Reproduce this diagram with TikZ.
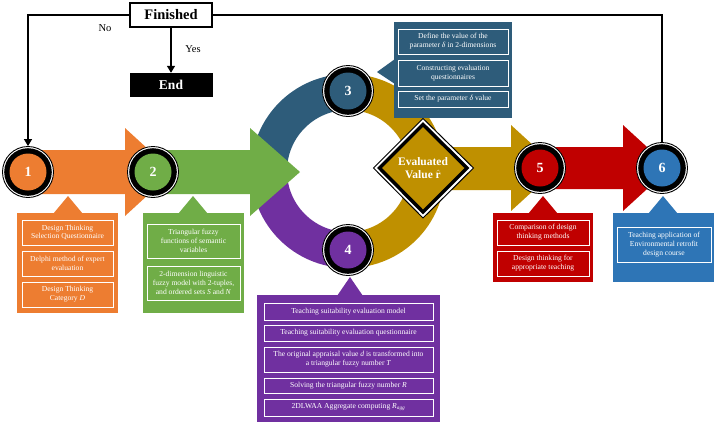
\documentclass[tikz,border=0pt]{standalone}
\usepackage{fontspec}
\setmainfont{Liberation Serif}
\usetikzlibrary{arrows.meta}
\definecolor{corange}{HTML}{ED7D31}
\definecolor{cgreen}{HTML}{70AD47}
\definecolor{cteal}{RGB}{46,92,122}
\definecolor{cgold}{HTML}{BF9000}
\definecolor{cpurple}{HTML}{7030A0}
\definecolor{cred}{HTML}{C00000}
\definecolor{cblue}{HTML}{2E75B6}
\newcommand\numcirc[4]{%
  \node[circle, draw=black, fill=white, line width=0.9pt, minimum size=51pt, inner sep=0pt] (#1) at #2 {};
  \fill[black] (#1.center) circle (23.8);
  \node[circle, fill=#3, minimum size=37pt, inner sep=0pt, text=white, font=\bfseries\fontsize{14}{14}\selectfont] at (#1.center) {#4};
}
\tikzset{
  panel/.style={rectangle, inner sep=0pt, draw=none},
  item/.style={rectangle, draw=white, line width=0.9pt, text=white, align=center, inner sep=1pt,
    font=\fontsize{7.6}{8.8}\selectfont},
  flowline/.style={draw=black, line width=1.5pt},
}
\begin{document}
\begin{tikzpicture}[x=1pt,y=-1pt]
\useasboundingbox (0,0) rectangle (716,424);
% ring
\draw[cteal, line width=36pt] (348,171) ++(180:79) arc[start angle=180, end angle=270, radius=79];
\draw[cgold, line width=36pt] (348,171) ++(270:79) arc[start angle=270, end angle=450, radius=79];
\draw[cpurple, line width=36pt] (348,171) ++(90:79) arc[start angle=90, end angle=180, radius=79];
% arrows
\fill[corange] (28,150) -- (125,150) -- (125,128) -- (173,172) -- (125,216) -- (125,194) -- (28,194) -- cycle;
\fill[cgreen] (153,150) -- (250,150) -- (250,128) -- (300,172) -- (250,216) -- (250,194) -- (153,194) -- cycle;
\fill[cgold] (400,147) -- (511,147) -- (511,125) -- (558,168) -- (511,211) -- (511,190) -- (400,190) -- cycle;
\fill[cred] (540,147) -- (623,147) -- (623,125) -- (670,168) -- (623,211) -- (623,189) -- (540,189) -- cycle;
% diamond
\filldraw[fill=white, draw=black, line width=1pt] (423,118.5) -- (473.5,168) -- (423,218) -- (373.5,168) -- cycle;
\filldraw[fill=cgold, draw=black, line width=3.5pt] (423,124.5) -- (467,168) -- (423,212) -- (379.5,168) -- cycle;
\node[text=white, font=\bfseries\fontsize{11.5}{13.5}\selectfont, align=center] (dia) at (423,168) {Evaluated\\Value $\hat{\mathbf{r}}$};
% circles
\numcirc{c1}{(28,172)}{corange}{1}
\numcirc{c2}{(153,172)}{cgreen}{2}
\numcirc{c3}{(348,91)}{cteal}{3}
\numcirc{c4}{(348,250)}{cpurple}{4}
\numcirc{c5}{(540,168)}{cred}{5}
\numcirc{c6}{(662,168)}{cblue}{6}
% panel 1
\node[panel, fill=corange, minimum width=101pt, minimum height=100pt] (p1) at (67.5,263) {};
\fill[corange] (53,214) -- (68,196) -- (83,214) -- cycle;
\node[item, minimum width=91pt, minimum height=25pt] (b1a) at (67.5,232.5) {Design Thinking\\Selection Questionnaire};
\node[item, minimum width=91pt, minimum height=25pt] (b1b) at (67.5,263.5) {Delphi method of expert\\evaluation};
\node[item, minimum width=91pt, minimum height=25pt] (b1c) at (67.5,294.5) {Design Thinking\\Category \textit{D}};
% panel 2
\node[panel, fill=cgreen, minimum width=101pt, minimum height=100pt] (p2) at (193.5,263) {};
\fill[cgreen] (178,214) -- (193,196) -- (208,214) -- cycle;
\node[item, minimum width=93pt, minimum height=34pt] (b2a) at (193.5,241) {Triangular fuzzy\\functions of semantic\\variables};
\node[item, minimum width=93pt, minimum height=34pt] (b2b) at (193.5,283) {2-dimension linguistic\\fuzzy model with 2-tuples,\\and ordered sets \textit{S} and \textit{N}};
% panel 3
\node[panel, fill=cteal, minimum width=118pt, minimum height=96pt] (p3) at (453,70) {};
\fill[cteal] (395,59) -- (377,72) -- (395,84) -- cycle;
\node[item, minimum width=110pt, minimum height=25pt] (b3a) at (453,41.5) {Define the value of the\\parameter \textit{δ} in 2-dimensions};
\node[item, minimum width=110pt, minimum height=26pt] (b3b) at (453,73) {Constructing evaluation\\questionnaires};
\node[item, minimum width=110pt, minimum height=16pt] (b3c) at (453,99) {Set the parameter \textit{δ} value};
% panel 4
\node[panel, fill=cpurple, minimum width=183pt, minimum height=127pt] (p4) at (348.5,358.5) {};
\fill[cpurple] (337,296) -- (350,277) -- (363,296) -- cycle;
\node[item, minimum width=169pt, minimum height=17pt] (b4a) at (348.5,311.5) {Teaching suitability evaluation model};
\node[item, minimum width=169pt, minimum height=16pt] (b4b) at (348.5,333) {Teaching suitability evaluation questionnaire};
\node[item, minimum width=169pt, minimum height=25pt] (b4c) at (348.5,359.5) {The original appraisal value \textit{d} is transformed into\\a triangular fuzzy number \textit{T}};
\node[item, minimum width=169pt, minimum height=15pt] (b4d) at (348.5,385.5) {Solving the triangular fuzzy number \textit{R}};
\node[item, minimum width=169pt, minimum height=17pt] (b4e) at (348.5,407.5) {2DLWAA Aggregate computing \textit{R}\textsubscript{\textit{agg}}};
% panel 5
\node[panel, fill=cred, minimum width=100pt, minimum height=69pt] (p5) at (543,247.5) {};
\fill[cred] (528,214) -- (543,196) -- (558,214) -- cycle;
\node[item, minimum width=92pt, minimum height=25pt] (b5a) at (543,232.5) {Comparison of design\\thinking methods};
\node[item, minimum width=92pt, minimum height=25pt] (b5b) at (543,263.5) {Design thinking for\\appropriate teaching};
% panel 6
\node[panel, fill=cblue, minimum width=101pt, minimum height=69pt] (p6) at (663.5,247.5) {};
\fill[cblue] (648,214) -- (663,196) -- (678,214) -- cycle;
\node[item, minimum width=94pt, minimum height=35pt] (b6a) at (664,244.5) {Teaching application of\\Environmental retrofit\\design course};
% flow chart
\node[draw=black, line width=1.5pt, fill=white, minimum width=82pt, minimum height=24pt, inner sep=0pt, font=\bfseries\fontsize{14.5}{15}\selectfont] (fin) at (171,15) {Finished};
\node[fill=black, minimum width=83pt, minimum height=24pt, inner sep=0pt, text=white, font=\bfseries\fontsize{13.5}{14}\selectfont] (end) at (171,85) {End};
\draw[flowline, -{Triangle[length=7pt,width=8pt]}] (fin.south) -- (end.north);
\draw[flowline, -{Triangle[length=7pt,width=8pt]}] (fin.west) -| (c1.north);
\draw[flowline] (fin.east) -| (c6.north);
\node[font=\fontsize{10.5}{12}\selectfont] (no) at (105,28) {No};
\node[font=\fontsize{10.5}{12}\selectfont] (yes) at (193,49) {Yes};
\end{tikzpicture}
\end{document}
